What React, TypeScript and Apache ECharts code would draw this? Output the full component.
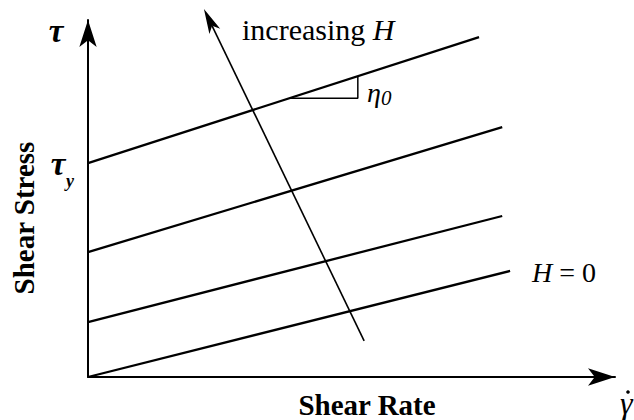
import React, { useEffect, useRef } from "react";
import * as echarts from "echarts";

// Bingham flow curves: shear stress vs shear rate for increasing field strength H
// (arbitrary units, 0–100 on both axes)
const curveNames = ["H3", "H2", "H1", "H = 0"];
const curveStartRate = [0, 0, 0, 0];
const curveStartStress = [59.9, 35.0, 15.4, 0];
const curveEndRate = [74.2, 78.6, 78.6, 80.1];
const curveEndStress = [95.2, 70.0, 45.1, 29.7];

// arrow across the curves, pointing towards higher H
const trendFrom = [52.4, 10.1];
const trendTo = [22.0, 103.1];

// slope triangle marking the plastic viscosity on the top curve
const slopeRate = [38.3, 51.2, 51.2];
const slopeStress = [78.1, 78.1, 84.3];

const SERIF = "'Times New Roman', 'Liberation Serif', serif";
const INK = "#000";

export default function App() {
  const ref = useRef<HTMLDivElement>(null);

  useEffect(() => {
    if (!ref.current) return;
    const chart = echarts.init(ref.current, null, { renderer: "svg" });

    const curveSeries = curveNames.map((name, i) => ({
      name,
      type: "line",
      data: [
        [curveStartRate[i], curveStartStress[i]],
        [curveEndRate[i], curveEndStress[i]],
      ],
      symbol: "none",
      lineStyle: { color: INK, width: 2.3 },
      silent: true,
      z: 3,
    }));

    const text = (
      x: number,
      y: number,
      content: string,
      font: Record<string, any>,
      align = "left",
      extra: Record<string, any> = {}
    ) => ({
      type: "text",
      x,
      y,
      ...extra,
      style: {
        text: content,
        fill: INK,
        fontFamily: SERIF,
        align,
        textAlign: align,
        verticalAlign: "middle",
        textVerticalAlign: "middle",
        ...font,
      },
    });

    const axisLine = {
      show: true,
      symbol: ["none", "arrow"],
      symbolSize: [13, 27],
      lineStyle: { color: INK, width: 2 },
    };

    chart.setOption({
      animation: false,
      backgroundColor: "#fff",
      grid: { left: 88, right: 19, top: 20, bottom: 43 },
      xAxis: {
        type: "value",
        min: 0,
        max: 100,
        axisLine,
        axisTick: { show: false },
        axisLabel: { show: false },
        splitLine: { show: false },
      },
      yAxis: {
        type: "value",
        min: 0,
        max: 100,
        axisLine,
        axisTick: { show: false },
        axisLabel: { show: false },
        splitLine: { show: false },
      },
      series: [
        ...curveSeries,
        {
          name: "slope",
          type: "line",
          data: slopeRate.map((r, i) => [r, slopeStress[i]]),
          symbol: "none",
          lineStyle: { color: INK, width: 1.5 },
          silent: true,
          z: 2,
        },
        {
          name: "trend",
          type: "custom",
          coordinateSystem: "cartesian2d",
          clip: false,
          silent: true,
          data: [[trendFrom[0], trendFrom[1], trendTo[0], trendTo[1]]],
          renderItem: (_params: any, api: any) => {
            const a = api.coord([api.value(0), api.value(1)]);
            const b = api.coord([api.value(2), api.value(3)]);
            const dx = b[0] - a[0];
            const dy = b[1] - a[1];
            const len = Math.hypot(dx, dy);
            const ux = dx / len;
            const uy = dy / len;
            const nx = -uy;
            const ny = ux;
            const headLen = 25;
            const halfW = 6;
            const back = [b[0] - ux * headLen, b[1] - uy * headLen];
            const notch = [b[0] - ux * headLen * 0.75, b[1] - uy * headLen * 0.75];
            return {
              type: "group",
              children: [
                {
                  type: "line",
                  shape: { x1: a[0], y1: a[1], x2: notch[0], y2: notch[1] },
                  style: { stroke: INK, lineWidth: 1.6 },
                },
                {
                  type: "polygon",
                  shape: {
                    points: [
                      [b[0], b[1]],
                      [back[0] + nx * halfW, back[1] + ny * halfW],
                      notch,
                      [back[0] - nx * halfW, back[1] - ny * halfW],
                    ],
                  },
                  style: { fill: INK },
                },
              ],
            };
          },
        },
      ],
      graphic: [
        text(56, 31, "τ", { fontSize: 33, fontStyle: "italic", fontWeight: "bold" }, "center"),
        text(58, 164, "τ", { fontSize: 33, fontStyle: "italic", fontWeight: "bold" }, "center"),
        text(70, 181, "y", { fontSize: 18, fontStyle: "italic", fontWeight: "bold" }, "center"),
        {
          type: "text",
          x: 242,
          y: 29,
          style: {
            text: "increasing {i|H}",
            fill: INK,
            fontFamily: SERIF,
            fontSize: 30,
            align: "left",
            textAlign: "left",
            verticalAlign: "middle",
            textVerticalAlign: "middle",
            rich: { i: { fontStyle: "italic", fontSize: 30, fontFamily: SERIF, fill: INK } },
          },
        },
        text(367, 92, "η", { fontSize: 28, fontStyle: "italic" }),
        text(381, 98, "0", { fontSize: 21, fontStyle: "italic" }),
        {
          type: "text",
          x: 532,
          y: 272,
          style: {
            text: "{i|H} = 0",
            fill: INK,
            fontFamily: SERIF,
            fontSize: 28,
            align: "left",
            textAlign: "left",
            verticalAlign: "middle",
            textVerticalAlign: "middle",
            rich: { i: { fontStyle: "italic", fontSize: 28, fontFamily: SERIF, fill: INK } },
          },
        },
        text(24, 218, "Shear Stress", { fontSize: 29, fontWeight: "bold" }, "center", {
          rotation: Math.PI / 2,
        }),
        text(367, 405, "Shear Rate", { fontSize: 29, fontWeight: "bold" }, "center"),
        // shear-rate symbol: italic gamma with its over-dot
        text(620, 403, "γ", { fontSize: 32, fontStyle: "italic" }),
        {
          type: "circle",
          shape: { cx: 628, cy: 392, r: 1.8 },
          style: { fill: INK },
        },
      ],
    });

    return () => chart.dispose();
  }, []);

  return (
    <div
      ref={ref}
      style={{ position: "fixed", left: 0, top: 0, width: 634, height: 420, background: "#fff" }}
    />
  );
}
